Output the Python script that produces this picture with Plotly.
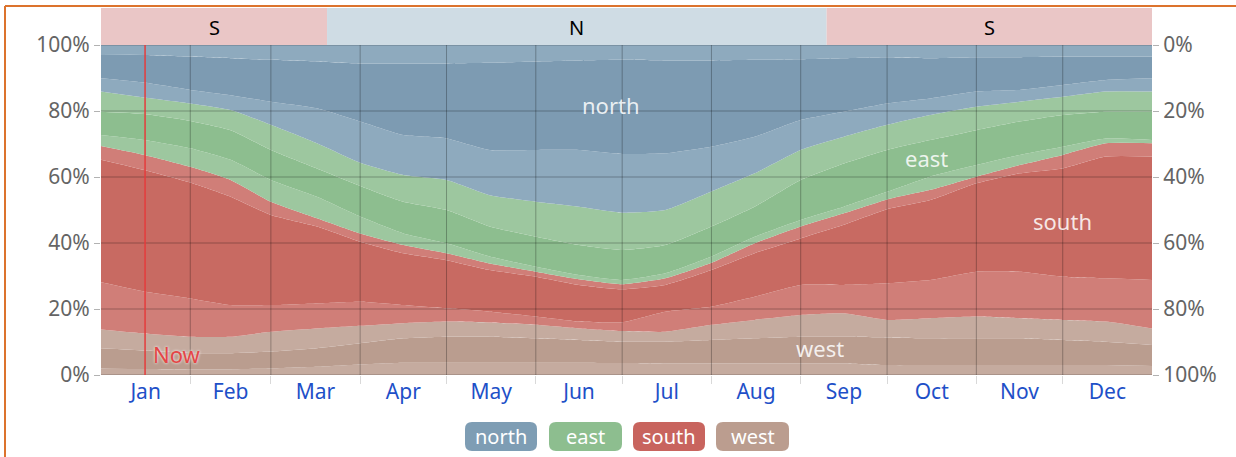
import plotly.graph_objects as go

# ---- data (cumulative boundaries, % from bottom) ----
days = [0, 15, 31, 45, 59, 75, 90, 105, 120, 135, 151, 166, 181, 196, 212, 227, 243, 258, 273, 288, 304, 319, 334, 349, 365]
b1 = [2.0, 1.8, 1.7, 1.7, 2.0, 2.5, 3.2, 3.7, 3.7, 3.7, 3.7, 3.7, 3.6, 3.5, 3.5, 3.5, 3.5, 3.5, 3.0, 3.0, 3.0, 3.0, 3.0, 3.0, 2.7]
b2 = [8.1, 7.4, 6.6, 6.6, 7.1, 8.1, 9.6, 11.1, 11.6, 11.6, 11.1, 10.6, 10.1, 10.1, 10.6, 11.1, 11.6, 11.6, 11.4, 11.1, 11.1, 11.1, 10.6, 10.1, 9.1]
b3 = [13.8, 12.6, 11.6, 11.6, 13.1, 14.1, 14.9, 15.7, 16.2, 15.9, 15.2, 14.1, 13.3, 13.1, 15.2, 16.7, 18.2, 18.7, 16.7, 17.2, 17.7, 17.2, 16.7, 16.2, 14.1]
b4 = [28.1, 25.3, 23.2, 21.2, 21.2, 21.7, 22.2, 21.2, 20.2, 19.2, 17.7, 16.2, 16.0, 19.2, 20.7, 23.7, 27.3, 27.3, 27.8, 28.8, 31.3, 31.3, 29.8, 29.3, 28.8]
b5 = [65.2, 62.1, 58.3, 54.0, 48.5, 45.0, 40.4, 36.9, 34.8, 31.8, 29.8, 27.3, 26.0, 27.3, 31.8, 36.9, 41.4, 45.5, 50.2, 53.0, 58.1, 61.1, 62.6, 66.2, 66.2]
b6 = [69.4, 66.7, 63.1, 59.1, 52.5, 47.5, 42.9, 39.4, 36.9, 33.8, 31.3, 29.0, 27.5, 29.3, 34.0, 39.9, 45.0, 49.0, 53.2, 56.1, 60.1, 63.6, 66.7, 70.2, 70.2]
b7 = [72.7, 71.2, 68.7, 65.2, 59.1, 54.0, 48.0, 42.9, 39.9, 35.9, 32.8, 30.3, 28.8, 30.8, 35.9, 41.9, 47.0, 51.0, 55.5, 60.1, 63.6, 66.7, 69.2, 71.7, 71.2]
b8 = [79.8, 79.1, 77.0, 74.2, 68.2, 62.6, 57.3, 52.5, 50.0, 45.0, 41.9, 39.4, 37.9, 39.4, 45.0, 51.0, 59.1, 64.1, 68.2, 71.2, 74.2, 76.8, 78.8, 79.8, 79.8]
b9 = [85.9, 84.1, 82.3, 80.3, 75.8, 70.2, 64.3, 60.6, 59.1, 54.5, 52.5, 51.0, 49.2, 50.0, 55.6, 61.1, 68.2, 72.2, 75.8, 78.8, 81.3, 82.8, 84.3, 85.9, 85.9]
b10 = [89.9, 88.6, 86.4, 84.8, 82.8, 80.8, 76.8, 72.7, 71.7, 68.2, 68.2, 68.2, 67.0, 67.2, 69.2, 72.2, 77.3, 79.8, 82.3, 83.8, 85.9, 86.4, 87.9, 89.4, 89.9]
b11 = [97.0, 97.0, 96.5, 96.0, 95.5, 95.0, 94.4, 94.4, 94.4, 94.6, 95.0, 95.3, 95.5, 95.3, 95.3, 95.5, 95.7, 96.0, 96.3, 96.0, 96.3, 96.3, 96.5, 96.5, 96.5]
top = [100.0] * len(days)

month_names = ["Jan", "Feb", "Mar", "Apr", "May", "Jun", "Jul", "Aug", "Sep", "Oct", "Nov", "Dec"]
month_starts = [0, 31, 59, 90, 120, 151, 181, 212, 243, 273, 304, 334, 365]
y_ticks = [0, 20, 40, 60, 80, 100]
y_labels = ["0%", "20%", "40%", "60%", "80%", "100%"]
dominant_labels = ["S", "N", "S"]
dominant_edges = [0, 78.5, 252, 365]
now_day = 15.3
direction_names = ["north", "east", "south", "west"]

# ---- styles ----
N_D, N_L = "rgb(125,155,178)", "rgb(142,170,190)"
E_D, E_L = "rgb(141,190,143)", "rgb(157,199,159)"
S_D, S_L = "rgb(200,106,98)", "rgb(208,126,120)"
W_D, W_L = "rgb(186,157,143)", "rgb(197,171,159)"
pill_colors = ["rgb(126,157,180)", "rgb(141,190,143)", "rgb(200,100,94)", "rgb(187,157,143)"]
band_colors = {"S": "rgb(234,198,198)", "N": "rgb(207,220,228)"}
GRID = "rgba(0,0,0,0.28)"
FONT = "Noto Sans"

bounds = [[0.0] * len(days), b1, b2, b3, b4, b5, b6, b7, b8, b9, b10, b11, top]
fills = [W_L, W_D, W_L, S_L, S_D, S_L, E_L, E_D, E_L, N_L, N_D, N_L]

fig = go.Figure()
fig.add_trace(go.Scatter(x=days, y=bounds[0], mode="lines", line=dict(width=0),
                         showlegend=False, hoverinfo="skip"))
for i, col in enumerate(fills):
    fig.add_trace(go.Scatter(x=days, y=bounds[i + 1], mode="lines",
                             line=dict(width=0, shape="spline", smoothing=0.5),
                             fill="tonexty", fillcolor=col, showlegend=False,
                             hoverinfo="skip"))
# invisible trace for the right axis
fig.add_trace(go.Scatter(x=[None], y=[None], yaxis="y2", showlegend=False, hoverinfo="skip"))

W, H = 1236, 457
L, R, T, B = 101, 84, 45, 82
pw, ph = W - L - R, H - T - B


def px2x(px):
    return (px - L) / pw


def py2y(py):
    return (H - B - py) / ph


mids = [(month_starts[i] + month_starts[i + 1]) / 2 for i in range(12)]

fig.update_layout(
    width=W, height=H,
    margin=dict(l=L, r=R, t=T, b=B, autoexpand=False),
    paper_bgcolor="white", plot_bgcolor="white",
    font=dict(family=FONT),
    xaxis=dict(range=[0, 365], tickvals=mids, ticktext=month_names, ticks="",
               showgrid=False, zeroline=False, showline=False, fixedrange=True,
               tickfont=dict(size=21, color="rgb(30,80,200)"), ticklabelstandoff=2,
               minor=dict(tickvals=month_starts[1:-1], showgrid=False,
                          ticks="outside", ticklen=8, tickcolor="rgba(0,0,0,0.15)")),
    yaxis=dict(range=[0, 100], tickvals=y_ticks, ticktext=y_labels, ticks="outside",
               ticklen=6, tickcolor="rgba(0,0,0,0.3)", showgrid=False,
               zeroline=False, showline=False,
               tickfont=dict(size=21, color="rgb(100,100,100)"), fixedrange=True),
    yaxis2=dict(range=[100, 0], overlaying="y", side="right", tickvals=y_ticks,
                ticktext=y_labels, ticks="outside", ticklen=6,
                tickcolor="rgba(0,0,0,0.3)", showgrid=False, zeroline=False,
                tickfont=dict(size=21, color="rgb(100,100,100)"), fixedrange=True),
)

shapes = []
# grid lines drawn above the areas
for v in y_ticks:
    shapes.append(dict(type="line", xref="paper", yref="y", x0=0, x1=1, y0=v, y1=v,
                       line=dict(color=GRID, width=1), layer="above"))
for d in month_starts[1:-1]:
    shapes.append(dict(type="line", xref="x", yref="y", x0=d, x1=d, y0=0, y1=100,
                       line=dict(color=GRID, width=1), layer="above"))
# dominant direction band on top
for i, lab in enumerate(dominant_labels):
    shapes.append(dict(type="rect", xref="x", yref="paper",
                       x0=dominant_edges[i], x1=dominant_edges[i + 1],
                       y0=1.0, y1=py2y(8), fillcolor=band_colors[lab],
                       line=dict(width=0), layer="below"))
    fig.add_annotation(x=(dominant_edges[i] + dominant_edges[i + 1]) / 2, xref="x",
                       y=py2y(27), yref="paper", text=lab, showarrow=False,
                       xanchor="center", yanchor="middle",
                       font=dict(size=20, color="black"))
# now line
shapes.append(dict(type="line", xref="x", yref="y", x0=now_day, x1=now_day, y0=0, y1=100,
                   line=dict(color="rgb(228,60,60)", width=1.5), layer="above"))
# orange frame
shapes.append(dict(type="line", xref="paper", yref="paper", x0=px2x(5), x1=px2x(1240),
                   y0=py2y(6), y1=py2y(6), line=dict(color="rgb(220,115,45)", width=2)))
shapes.append(dict(type="line", xref="paper", yref="paper", x0=px2x(5), x1=px2x(5),
                   y0=py2y(6), y1=py2y(460), line=dict(color="rgb(220,115,45)", width=2)))

# legend pills (rounded rects)
pill_x = [(465, 537), (549, 622), (633, 705), (716, 789)]
py0, py1 = 422, 451
r = 7
for (x0p, x1p), col, name in zip(pill_x, pill_colors, direction_names):
    X0, X1 = px2x(x0p), px2x(x1p)
    Y0, Y1 = py2y(py1), py2y(py0)
    rx, ry = r / pw, r / ph
    path = (f"M {X0+rx},{Y0} L {X1-rx},{Y0} Q {X1},{Y0} {X1},{Y0+ry} "
            f"L {X1},{Y1-ry} Q {X1},{Y1} {X1-rx},{Y1} L {X0+rx},{Y1} "
            f"Q {X0},{Y1} {X0},{Y1-ry} L {X0},{Y0+ry} Q {X0},{Y0} {X0+rx},{Y0} Z")
    shapes.append(dict(type="path", xref="paper", yref="paper", path=path,
                       fillcolor=col, line=dict(width=0)))
    fig.add_annotation(x=(X0 + X1) / 2, y=(Y0 + Y1) / 2, xref="paper", yref="paper",
                       text=name, showarrow=False, xanchor="center", yanchor="middle",
                       font=dict(size=20, color="white"))

fig.update_layout(shapes=shapes)

# in-chart labels
label_pos = {"north": (611, 105), "east": (926, 158), "south": (1062, 221), "west": (820, 348)}
for name, (lx, ly) in label_pos.items():
    fig.add_annotation(x=px2x(lx), y=py2y(ly), xref="paper", yref="paper", text=name,
                       showarrow=False, xanchor="center", yanchor="middle",
                       font=dict(size=22, color="rgba(255,255,255,0.85)"))

fig.add_annotation(x=px2x(151), y=py2y(354), xref="paper", yref="paper", text="Now",
                   xanchor="left", yanchor="middle", showarrow=False,
                   font=dict(size=22, color="rgb(228,70,70)", shadow="0px 0px 3px white"))

fig.write_html("out.html", config={"displayModeBar": False},
               post_script="document.body.style.margin='0';")
